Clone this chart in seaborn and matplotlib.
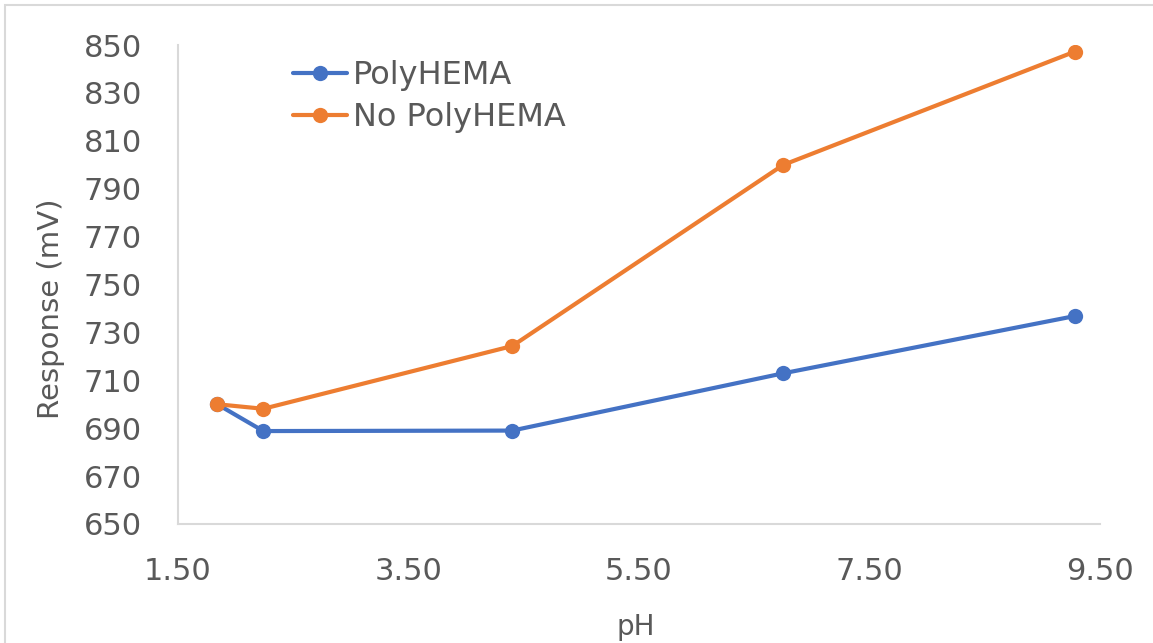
import matplotlib
matplotlib.use("Agg")
import matplotlib.pyplot as plt
import seaborn as sns
import pandas as pd
from matplotlib.patches import Rectangle

# pH readings and sensor response (mV)
ph_values = [1.84, 2.24, 4.40, 6.75, 9.28]
polyhema = [700.0, 688.8, 689.0, 712.9, 736.8]
no_polyhema = [700.0, 698.1, 724.3, 799.9, 847.2]
series_names = ["PolyHEMA", "No PolyHEMA"]
x_ticks = [1.5, 3.5, 5.5, 7.5, 9.5]
y_ticks = list(range(650, 851, 20))

df = pd.concat([
    pd.DataFrame({"pH": ph_values, "Response (mV)": polyhema, "series": series_names[0]}),
    pd.DataFrame({"pH": ph_values, "Response (mV)": no_polyhema, "series": series_names[1]}),
])

sns.set_style("white")
plt.rcParams["font.family"] = ["DejaVu Sans"]
text_color = "#595959"
grid_color = "#d9d9d9"

fig = plt.figure(figsize=(11.53, 6.43), dpi=100)
ax = fig.add_axes([0.1544, 0.1851, 0.7996, 0.7449])

sns.lineplot(
    data=df, x="pH", y="Response (mV)", hue="series", hue_order=series_names,
    palette=["#4472C4", "#ED7D31"], marker="o", markersize=11,
    markeredgewidth=0, linewidth=3, sort=False, ax=ax,
)

ax.set_xlim(1.5, 9.5)
ax.set_ylim(650, 850)
ax.set_xticks(x_ticks)
ax.set_xticklabels([f"{v:.2f}" for v in x_ticks])
ax.set_yticks(y_ticks)
ax.tick_params(axis="both", length=0, labelsize=22, labelcolor=text_color)
ax.tick_params(axis="y", pad=26)
ax.tick_params(axis="x", pad=24)

for side in ["top", "right"]:
    ax.spines[side].set_visible(False)
for side in ["left", "bottom"]:
    ax.spines[side].set_color(grid_color)
    ax.spines[side].set_linewidth(1.5)

ax.set_xlabel("pH", fontsize=20, color=text_color)
ax.set_ylabel("Response (mV)", fontsize=21, color=text_color)
ax.xaxis.set_label_coords(0.497, -0.185)
ax.yaxis.set_label_coords(-0.1226, 0.449)

leg = ax.legend(
    loc="upper left", bbox_to_anchor=(0.254, 0.906), bbox_transform=fig.transFigure,
    frameon=False, fontsize=23, handlelength=1.7, handletextpad=0.17,
    labelspacing=0.34, borderaxespad=0, borderpad=0,
)
for t in leg.get_texts():
    t.set_color(text_color)

# light outer border of the chart area (left and top edges visible)
fig.patches.append(Rectangle((0.0043, -0.05), 1.1, 1.0422, transform=fig.transFigure,
                             fill=False, edgecolor=grid_color, linewidth=1.5))

fig.savefig("out.png", dpi=100)
